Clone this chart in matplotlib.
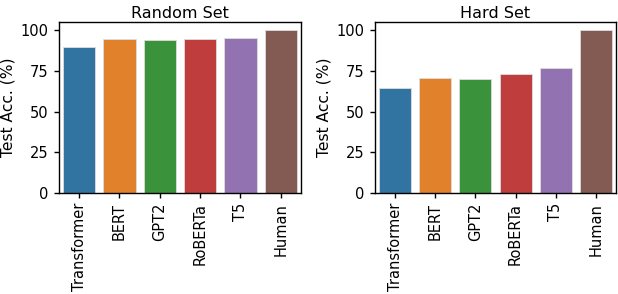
import matplotlib
matplotlib.use("Agg")
import matplotlib.pyplot as plt

models = ["Transformer", "BERT", "GPT2", "RoBERTa", "T5", "Human"]
random_acc = [89.8, 94.9, 94.1, 94.7, 95.5, 100.0]
hard_acc = [64.6, 70.8, 69.9, 73.4, 76.7, 100.0]
titles = ["Random Set", "Hard Set"]
yticks = [0, 25, 50, 75, 100]

# seaborn-style desaturated tab10
colors = ["#3274a1", "#e1812c", "#3a923a", "#c03d3e", "#9372b2", "#845b53"]

fig = plt.figure(figsize=(6.18, 2.94), dpi=100)
ax1 = fig.add_axes([59 / 618, 1 - 192.7 / 294, 242 / 618, (192.7 - 22.3) / 294])
ax2 = fig.add_axes([375 / 618, 1 - 192.7 / 294, 241 / 618, (192.7 - 22.3) / 294])

for ax, vals, title in zip([ax1, ax2], [random_acc, hard_acc], titles):
    x = range(len(models))
    ax.bar(x, vals, width=0.8, color=colors, edgecolor="#dddddd", lw=0.6)
    ax.set_xlim(-0.5, len(models) - 0.5)
    ax.set_ylim(0, 105)
    ax.set_yticks(yticks)
    ax.set_xticks(list(x))
    ax.set_xticklabels(models, rotation=90, fontsize=10.5)
    ax.tick_params(axis="y", labelsize=10.5, length=3.8, width=1)
    ax.tick_params(axis="x", length=3.8, width=1)
    ax.set_ylabel("Test Acc. (%)", fontsize=11.2)
    ax.set_title(title, fontsize=11.5, pad=3)
    for s in ax.spines.values():
        s.set_linewidth(1.0)

fig.savefig("out.png", dpi=100)
